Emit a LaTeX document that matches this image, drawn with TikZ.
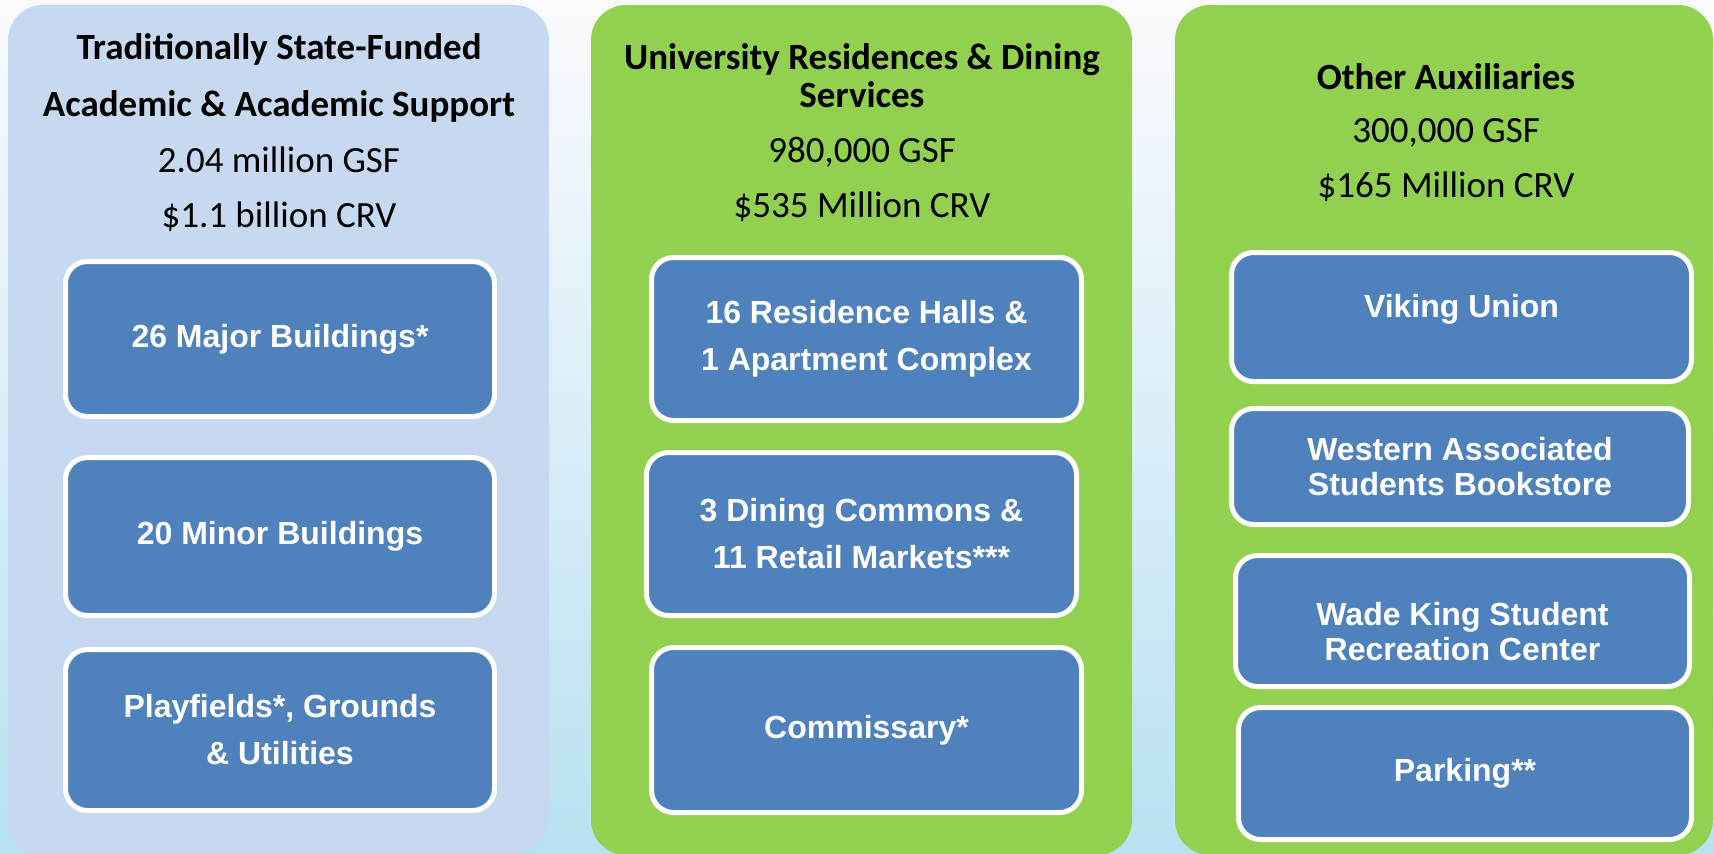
\documentclass[tikz,border=0pt]{standalone}
\usepackage{fontspec}
\setmainfont{Carlito}
\newfontfamily\arialb{Liberation Sans}
\usepackage{tikz}

\definecolor{panelblue}{HTML}{C6D9F0}
\definecolor{panelgreen}{HTML}{92D050}
\definecolor{itemblue}{HTML}{4F81BD}
\definecolor{skytop}{HTML}{FAFAFD}
\definecolor{skymid}{HTML}{EEF3FA}
\definecolor{skybot}{HTML}{B8E1F1}

\begin{document}
\begin{tikzpicture}[x=0.5pt,y=-0.5pt,
    panel/.style={rounded corners=17.5pt},
    item/.style={draw=white,line width=2.5pt,fill=itemblue,rounded corners=11pt,
        text=white,align=center,inner sep=0pt,
        font=\arialb\bfseries\fontsize{16}{17.5}\selectfont},
    head/.style={align=center,font=\bfseries\fontsize{18.5}{19}\selectfont},
    stats/.style={align=center,font=\fontsize{18.5}{27.5}\selectfont}]
\useasboundingbox (0,0) rectangle (1714,853);
\shade[top color=skytop,middle color=skymid,bottom color=skybot] (0,0) rectangle (1714,853);

% state funded
\begin{scope}
    \fill[panelblue,panel] (8,5) rectangle (549,855);
    \node[head] (acadhead) at (279,77.5) {Traditionally State-Funded\\[9.5pt]Academic \& Academic Support};
    \node[stats] (acadstats) at (279,189) {2.04 million GSF\\\$1.1 billion CRV};
    \node[item,minimum width=214.5pt,minimum height=77.5pt] (majorbldg) at (280,339) {26 Major Buildings*};
    \node[item,minimum width=214.5pt,minimum height=79pt] (minorbldg) at (280,536.5) {20 Minor Buildings};
    \node[item,minimum width=214.5pt,minimum height=80.5pt] (grounds) at (280,730) {Playfields*, Grounds\\[6pt]\& Utilities};
\end{scope}

% residences and dining
\begin{scope}
    \fill[panelgreen,panel] (591,5) rectangle (1132,855);
    \node[head] (reshead) at (862,76) {University Residences \& Dining\\Services};
    \node[stats] (resstats) at (862,179) {980,000 GSF\\\$535 Million CRV};
    \node[item,minimum width=215pt,minimum height=81.5pt] (halls) at (866.5,339) {16 Residence Halls \&\\[6pt]1 Apartment Complex};
    \node[item,minimum width=215pt,minimum height=81.5pt] (dining) at (861.5,534) {3 Dining Commons \&\\[6pt]11 Retail Markets***};
    \node[item,minimum width=215pt,minimum height=82.5pt] (commissary) at (866.5,730) {Commissary*};
\end{scope}

% other auxiliaries
\begin{scope}
    \fill[panelgreen,panel] (1175,5) rectangle (1713,855);
    \node[head] (auxhead) at (1446,77) {Other Auxiliaries};
    \node[stats] (auxstats) at (1446,160) {300,000 GSF\\\$165 Million CRV};
    \node[item,minimum width=230pt,minimum height=64.5pt] (union) at (1461.5,317) {Viking Union\rule[-11pt]{0pt}{0pt}};
    \node[item,minimum width=228.5pt,minimum height=58pt] (bookstore) at (1460,466.5) {Western Associated\\Students Bookstore};
    \node[item,minimum width=227pt,minimum height=65.5pt] (reccenter) at (1462.5,621) {\rule{0pt}{22.5pt}Wade King Student\\Recreation Center};
    \node[item,minimum width=226.5pt,minimum height=66pt] (parking) at (1465,773.5) {Parking**};
\end{scope}
\end{tikzpicture}
\end{document}
